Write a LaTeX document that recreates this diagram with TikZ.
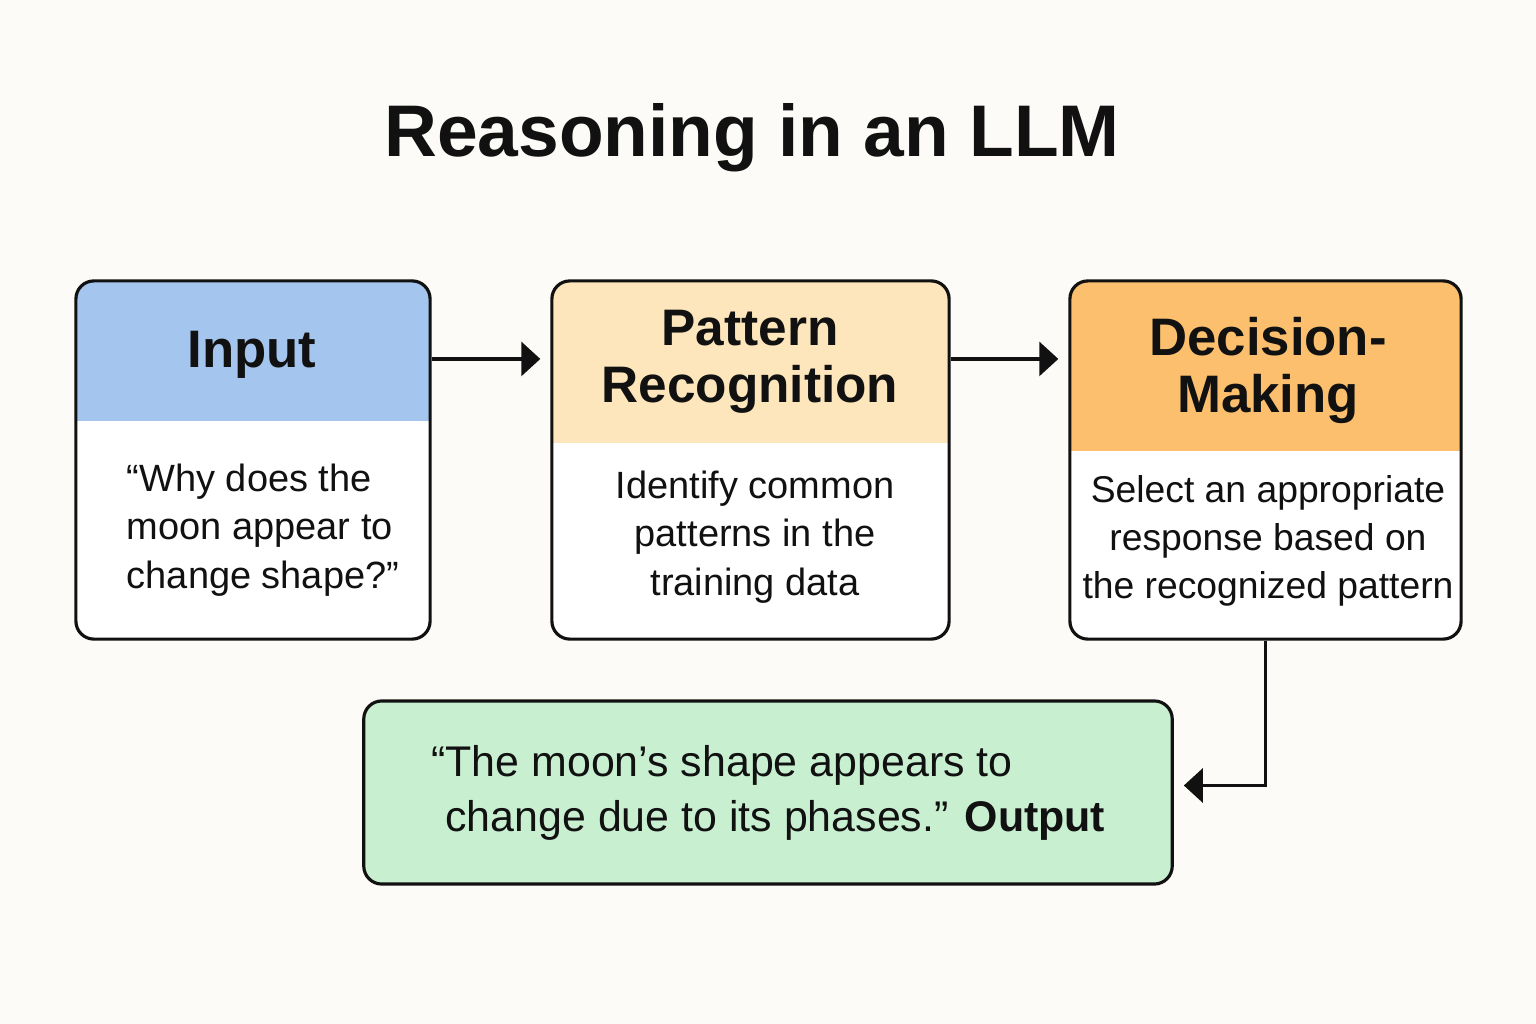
\documentclass[tikz,border=0pt]{standalone}
\usepackage{fontspec}
\setmainfont{Liberation Sans}
\usepackage{xcolor}
\usetikzlibrary{arrows.meta}

\definecolor{bgcol}{HTML}{FCFBF7}
\definecolor{inhead}{HTML}{A4C5EE}
\definecolor{pathead}{HTML}{FDE6BB}
\definecolor{dechead}{HTML}{FBBF6D}
\definecolor{outfill}{HTML}{C9EFD1}
\definecolor{inkcol}{HTML}{111111}

\begin{document}
\begin{tikzpicture}[x=0.01cm,y=-0.01cm,
    box/.style={draw=inkcol,line width=0.9pt,rounded corners=0.18cm,fill=white,
        minimum height=3.58cm,inner sep=0pt},
    head/.style 2 args={path picture={\fill[#1,sharp corners] (path picture bounding box.north west)
        rectangle ([yshift=-#2]path picture bounding box.north east);}},
    headtext/.style={font=\bfseries\fontsize{14.6}{16.2}\selectfont,align=center,text=inkcol},
    bodytext/.style={font=\fontsize{10.8}{13.7}\selectfont,align=center,text=inkcol},
    flow/.style={-{Triangle[length=0.19cm,width=0.34cm]},line width=0.9pt,draw=inkcol,
        shorten >=0.1cm}]
    \path[use as bounding box,fill=bgcol] (0,0) rectangle (1536,1024);

    % title
    \node[font=\bfseries\fontsize{20.8}{26}\selectfont,text=inkcol] (title) at (752,138) {Reasoning in an LLM};

    % the three steps
    \node[box,minimum width=3.54cm,head={inhead}{1.40cm}] (inbox) at (253,460) {};
    \node[box,minimum width=3.97cm,head={pathead}{1.62cm}] (patbox) at (750.5,460) {};
    \node[box,minimum width=3.91cm,head={dechead}{1.70cm}] (decbox) at (1265.5,460) {};

    \node[headtext,font=\bfseries\fontsize{15}{17}\selectfont] (intitle) at (252,355) {Input};
    \node[headtext] (pattitle) at (750,362) {Pattern\\Recognition};
    \node[headtext,font=\bfseries\fontsize{15}{16.2}\selectfont] (dectitle) at (1268,370) {Decision-\\Making};

    \node[bodytext,align=left] (intext) at (263,530) {“Why does the\\moon appear to\\change shape?”};
    \node[bodytext] (pattext) at (755,537) {Identify common\\patterns in the\\training data};
    \node[bodytext,font=\fontsize{10.6}{13.7}\selectfont] (dectext) at (1268,541) {Select an appropriate\\response based on\\the recognized pattern};

    % output
    \node[box,fill=outfill,minimum width=8.08cm,minimum height=1.83cm] (outbox) at (768,792.5) {};
    \node[bodytext,align=left,anchor=west,font=\fontsize{12.2}{15.6}\selectfont] (outtext) at (419,793)
        {“The moon’s shape appears to\\\hspace{4pt}change due to its phases.” \textbf{Output}};

    \draw[flow] ([yshift=1.01cm]inbox.east) -- ([yshift=1.01cm]patbox.west);
    \draw[flow] ([yshift=1.01cm]patbox.east) -- ([yshift=1.01cm]decbox.west);
    \draw[flow] (decbox.south) |- ([yshift=0.07cm]outbox.east);
\end{tikzpicture}
\end{document}
